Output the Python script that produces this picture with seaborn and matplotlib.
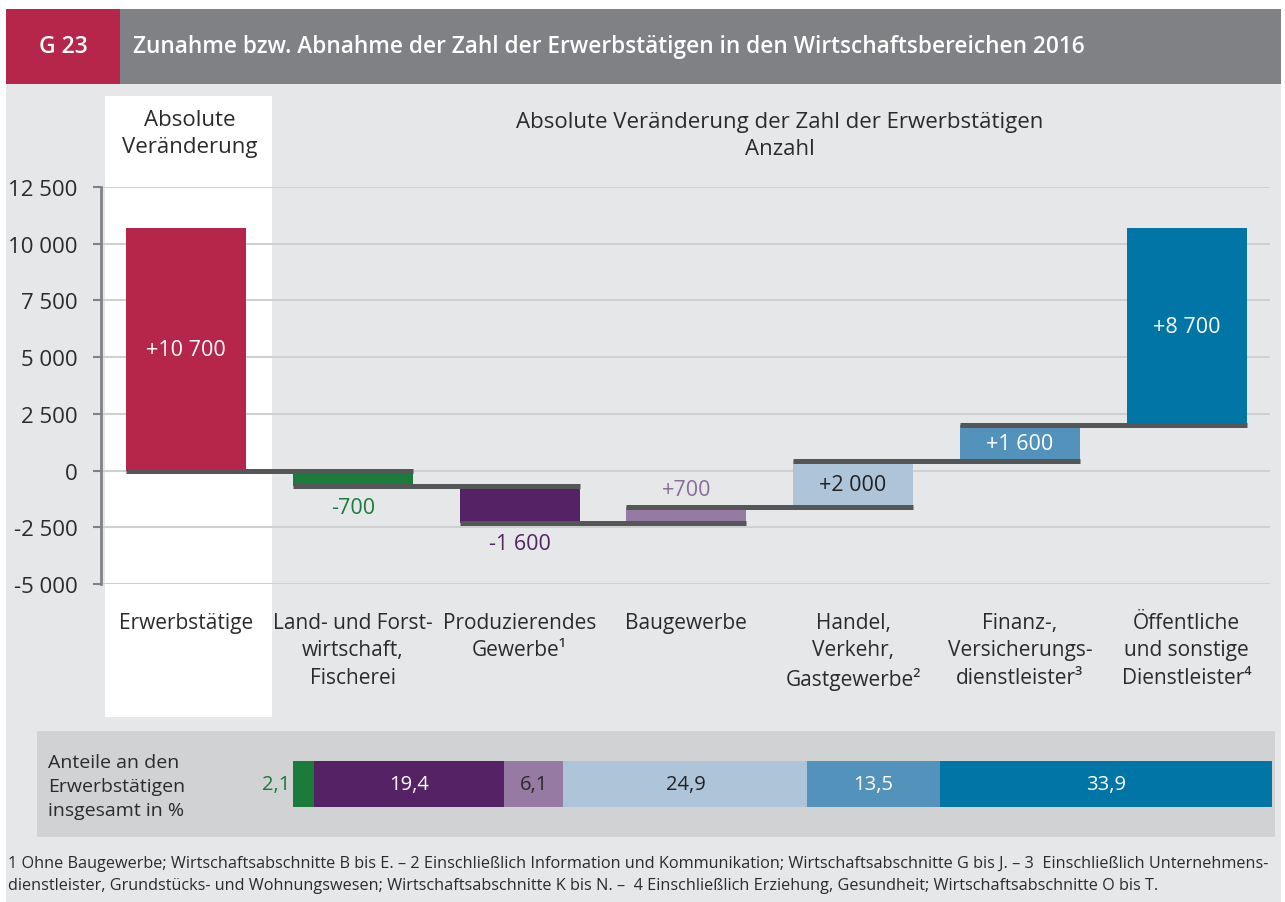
import numpy as np
import pandas as pd
import matplotlib
matplotlib.use("Agg")
import matplotlib.pyplot as plt
from matplotlib.patches import Rectangle
from matplotlib.ticker import FuncFormatter
import seaborn as sns

# ── Data ──────────────────────────────────────────────────────────────────────
CATEGORIES = [
    "Erwerbstätige",
    "Land- und Forst-\nwirtschaft,\nFischerei",
    "Produzierendes\nGewerbe¹",
    "Baugewerbe",
    "Handel,\nVerkehr,\nGastgewerbe²",
    "Finanz-,\nVersicherungs-\ndienstleister³",
    "Öffentliche\nund sonstige\nDienstleister⁴",
]
CHANGE = [10700, -700, -1600, 700, 2000, 1600, 8700]   # absolute change
SHARES = [2.1, 19.4, 6.1, 24.9, 13.5, 33.9]             # share in % (sectors)
Y_TICKS = [-5000, -2500, 0, 2500, 5000, 7500, 10000, 12500]

TITLE = "Zunahme bzw. Abnahme der Zahl der Erwerbstätigen in den Wirtschaftsbereichen 2016"
FOOT_1 = ("1 Ohne Baugewerbe; Wirtschaftsabschnitte B bis E. – 2 Einschließlich Information und "
          "Kommunikation; Wirtschaftsabschnitte G bis J. – 3  Einschließlich Unternehmens-")
FOOT_2 = ("dienstleister, Grundstücks- und Wohnungswesen; Wirtschaftsabschnitte K bis N. –  "
          "4 Einschließlich Erziehung, Gesundheit; Wirtschaftsabschnitte O bis T.")

# ── Style ─────────────────────────────────────────────────────────────────────
BAR_COLORS = ["#b5264a", "#1b7b3a", "#542265", "#967aa3", "#adc4d9", "#5393bb", "#0075a6"]
LABEL_COLORS = ["white", "#1b7b3a", "#542265", "#8a6c99", "#222222", "white", "white"]
LABEL_POS = ["in", "below", "below", "above", "in", "in", "in"]
SHARE_TEXT = ["#1b7b3a", "white", "#2a2a2a", "#222222", "white", "white"]
CONNECT = "#555657"
BG = "#e6e7e9"
TXT = "#2b2b2b"

sns.set_theme(style="white")
plt.rcParams["font.family"] = ["Open Sans", "DejaVu Sans"]

W, H = 1285, 903
fig = plt.figure(figsize=(W / 100, H / 100), dpi=100)
fig.patch.set_facecolor("white")


def box(x0, y0, x1, y1, color):
    """Rectangle in pixel coordinates (origin top-left)."""
    fig.patches.append(Rectangle((x0 / W, 1 - y1 / H), (x1 - x0) / W, (y1 - y0) / H,
                                 transform=fig.transFigure, facecolor=color,
                                 edgecolor="none", zorder=-10))


def px(x, y):
    return x / W, 1 - y / H


# background panels
box(6, 85, 1281, 903, BG)
box(6, 10, 120, 85, "#b5264a")
box(120, 10, 1281, 85, "#808184")
box(105, 97, 272, 718, "white")
box(37, 732, 1275, 838, "#d1d2d4")

fig.text(*px(63, 47), "G 23", color="white", fontsize=16.5, fontweight="semibold",
         ha="center", va="center")
fig.text(*px(133, 47), TITLE, color="white", fontsize=16.3, fontweight="semibold",
         ha="left", va="center")

fig.text(*px(190, 134), "Absolute\nVeränderung", color=TXT, fontsize=16,
         ha="center", va="center", linespacing=1.4)
fig.text(*px(780, 136), "Absolute Veränderung der Zahl der Erwerbstätigen\nAnzahl",
         color=TXT, fontsize=16, ha="center", va="center", linespacing=1.4)

# ── Waterfall ─────────────────────────────────────────────────────────────────
steps = np.array(CHANGE[1:])
levels = np.concatenate([[0], np.cumsum(steps)])
starts = np.concatenate([[0], levels[:-1]])

df = pd.DataFrame({"cat": CATEGORIES, "change": CHANGE})
ax = fig.add_axes([101 / W, 1 - 585 / H, (1270 - 101) / W, (585 - 188) / H])
ax.set_facecolor("none")
sns.barplot(data=df, x="cat", y="change", hue="cat", palette=BAR_COLORS,
            width=0.72, saturation=1, legend=False, dodge=False, ax=ax, zorder=2,
            linewidth=0)
for patch, s in zip(ax.patches, starts):
    patch.set_y(s)

bw = 0.72
for k in range(len(CHANGE) - 1):
    lvl = starts[k + 1]
    ax.hlines(lvl, k - bw / 2, k + 1 + bw / 2, color=CONNECT, lw=3.6,
              capstyle="butt", zorder=3)

for i, (v, s) in enumerate(zip(CHANGE, starts)):
    txt = f"{v:+,}".replace(",", " ")
    lo, hi = min(s, s + v), max(s, s + v)
    if LABEL_POS[i] == "in":
        y = (lo + hi) / 2
    elif LABEL_POS[i] == "below":
        y = lo - 930
    else:
        y = hi + 780
    ax.text(i, y, txt, color=LABEL_COLORS[i], fontsize=15.5, ha="center", va="center",
            zorder=4)

ax.set_xlim(-0.51, 6.5)
ax.set_ylim(-5000, 12500)
ax.set_yticks(Y_TICKS)
ax.yaxis.set_major_formatter(FuncFormatter(lambda v, p: f"{v:,.0f}".replace(",", " ")))
ax.set_xticks(range(len(CATEGORIES)))
ax.set_xticklabels(CATEGORIES, fontsize=15, color=TXT, linespacing=1.4, va="top")
ax.set(xlabel="", ylabel="")
ax.grid(axis="y", color="#cfd0d2", lw=1.5, zorder=0)
ax.set_axisbelow(True)
for side in ["top", "right", "bottom"]:
    ax.spines[side].set_visible(False)
ax.spines["left"].set_color("#808184")
ax.spines["left"].set_linewidth(2)
ax.tick_params(axis="y", length=6, width=1.5, color="#808184", labelsize=16,
               labelcolor=TXT, pad=11, left=True)
ax.tick_params(axis="x", length=0, pad=20)

# ── Shares bar ────────────────────────────────────────────────────────────────
sdf = pd.DataFrame({"seg": CATEGORIES[1:], "share": SHARES, "row": "Anteile"})
ax2 = fig.add_axes([293 / W, 1 - 808 / H, (1272 - 293) / W, (808 - 762) / H])
sns.barplot(data=sdf, x="share", y="row", hue="seg", palette=BAR_COLORS[1:],
            orient="h", width=1, saturation=1, legend=False, dodge=False, ax=ax2,
            linewidth=0)
lefts = np.concatenate([[0], np.cumsum(SHARES)[:-1]])
for patch, left in zip(ax2.patches, lefts):
    patch.set_x(left)
for i, (v, left) in enumerate(zip(SHARES, lefts)):
    lab = f"{v:.1f}".replace(".", ",")
    if i == 0:
        ax2.text(left - 0.25, 0, lab, color=SHARE_TEXT[i], fontsize=14.5,
                 ha="right", va="center")
    else:
        ax2.text(left + v / 2, 0, lab, color=SHARE_TEXT[i], fontsize=14.5,
                 ha="center", va="center")
ax2.set_xlim(0, sum(SHARES))
ax2.set_ylim(0.5, -0.5)
ax2.axis("off")

fig.text(*px(48, 787), "Anteile an den\nErwerbstätigen\ninsgesamt in %", color=TXT,
         fontsize=14, ha="left", va="center", linespacing=1.45)

fig.text(*px(8, 864), FOOT_1, color=TXT, fontsize=11.7, ha="left", va="center")
fig.text(*px(8, 886), FOOT_2, color=TXT, fontsize=11.7, ha="left", va="center")

fig.savefig("out.png", dpi=100, facecolor=fig.get_facecolor())
